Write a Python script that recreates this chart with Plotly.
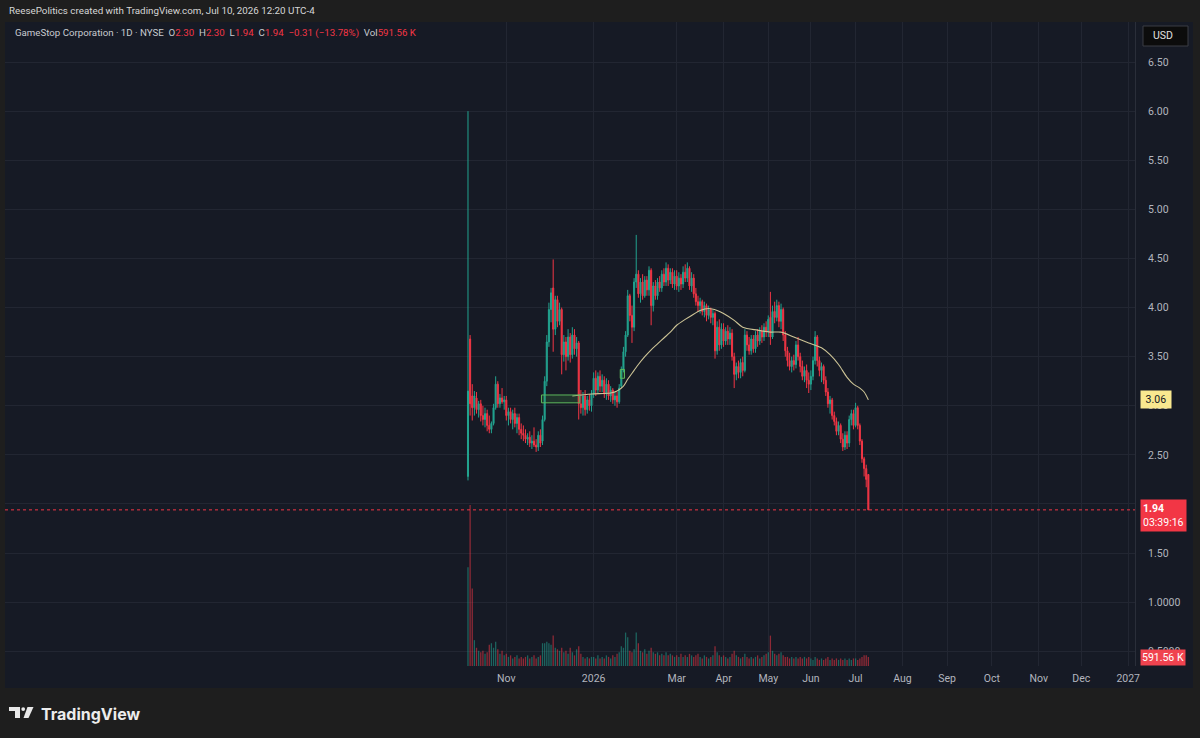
import numpy as np
import pandas as pd
import plotly.graph_objects as go

# ---------------- data ----------------
holidays = ["2025-11-27", "2025-12-25", "2026-01-01", "2026-01-19", "2026-02-16",
            "2026-04-03", "2026-05-25", "2026-06-19", "2026-07-03", "2026-09-07",
            "2026-11-26", "2026-12-25", "2027-01-01"]
first_day = "2025-10-08"
last_day = "2026-07-10"
axis_end = "2027-01-29"

opens = [
    # Oct
    2.28, 3.68, 3.10, 2.98, 3.08, 2.96, 3.02, 2.90, 2.86, 2.92, 2.80, 2.76, 2.82, 2.98, 3.22, 3.02, 3.08, 3.04,
    # Nov
    3.06, 2.90, 2.94, 2.86, 2.92, 2.82, 2.88, 2.76, 2.72, 2.70, 2.66, 2.68, 2.62, 2.64, 2.60, 2.58, 2.70, 2.64, 2.86,
    # Dec
    3.25, 3.65, 3.98, 4.20, 3.78, 4.08, 3.86, 3.98, 3.52, 3.65, 3.50, 3.70, 3.52, 3.72, 3.58, 3.64, 3.02, 2.98, 3.10, 2.96, 3.06, 3.00,
    # Jan
    3.12, 3.28, 3.16, 3.30, 3.20, 3.26, 3.12, 3.22, 3.10, 3.16, 3.06, 3.10, 3.04, 3.20, 3.36, 3.55, 3.72, 4.12, 3.92, 3.80,
    # Feb
    4.26, 4.34, 4.14, 4.26, 4.12, 4.28, 4.18, 4.38, 4.02, 4.22, 4.12, 4.26, 4.20, 4.34, 4.26, 4.40, 4.28, 4.36, 4.24,
    # Mar
    4.32, 4.22, 4.30, 4.24, 4.36, 4.30, 4.40, 4.22, 4.30, 4.14, 4.06, 4.02, 4.06, 3.96, 4.02, 3.92, 3.98, 3.90, 3.94, 3.56, 3.80, 3.62,
    # Apr
    3.78, 3.66, 3.76, 3.68, 3.74, 3.50, 3.32, 3.40, 3.34, 3.44, 3.36, 3.72, 3.62, 3.56, 3.68, 3.58, 3.72, 3.66, 3.76, 3.70, 3.80,
    # May
    3.76, 3.90, 3.70, 3.96, 3.90, 4.02, 3.86, 3.98, 3.72, 3.56, 3.46, 3.40, 3.46, 3.42, 3.62, 3.50, 3.40, 3.30, 3.36, 3.26,
    # Jun
    3.22, 3.30, 3.46, 3.70, 3.46, 3.36, 3.40, 3.26, 3.14, 3.02, 3.06, 2.90, 2.84, 2.74, 2.80, 2.66, 2.58, 2.70, 2.62, 2.86, 2.92,
    # Jul
    2.80, 2.98, 2.80, 2.64, 2.46, 2.36, 2.30,
]
highs = [
    6.00, 3.72, 3.22, 3.15, 3.14, 3.05, 3.06, 3.00, 2.98, 2.96, 2.90, 2.84, 3.02, 3.30, 3.25, 3.12, 3.18, 3.10,
    3.10, 2.98, 2.98, 2.96, 2.98, 2.92, 2.92, 2.82, 2.80, 2.76, 2.72, 2.74, 2.70, 2.78, 2.66, 2.74, 2.76, 2.90, 3.30,
    3.72, 4.05, 4.20, 4.49, 4.12, 4.12, 4.05, 4.00, 3.72, 3.70, 3.78, 3.74, 3.80, 3.78, 3.70, 3.66, 3.16, 3.14, 3.16, 3.10, 3.12, 3.16,
    3.34, 3.36, 3.34, 3.36, 3.32, 3.30, 3.28, 3.26, 3.20, 3.18, 3.14, 3.14, 3.22, 3.40, 3.60, 3.76, 4.18, 4.14, 4.02, 4.30,
    4.74, 4.38, 4.30, 4.34, 4.32, 4.32, 4.42, 4.40, 4.26, 4.28, 4.30, 4.32, 4.38, 4.40, 4.46, 4.44, 4.40, 4.40, 4.38,
    4.38, 4.36, 4.34, 4.42, 4.44, 4.46, 4.42, 4.36, 4.34, 4.20, 4.12, 4.10, 4.08, 4.06, 4.04, 4.02, 4.00, 3.98, 3.96, 3.86, 3.88, 3.84,
    3.84, 3.80, 3.82, 3.80, 3.78, 3.54, 3.44, 3.46, 3.48, 3.50, 3.78, 3.76, 3.70, 3.72, 3.72, 3.76, 3.78, 3.80, 3.82, 3.84, 3.86,
    3.92, 4.16, 4.02, 4.06, 4.08, 4.06, 4.04, 4.00, 3.76, 3.60, 3.54, 3.50, 3.52, 3.66, 3.70, 3.54, 3.46, 3.40, 3.42, 3.34,
    3.36, 3.50, 3.76, 3.72, 3.50, 3.44, 3.42, 3.30, 3.18, 3.10, 3.08, 2.94, 2.88, 2.84, 2.82, 2.72, 2.74, 2.74, 2.90, 2.96, 2.96,
    3.03, 3.00, 2.82, 2.66, 2.48, 2.40, 2.30,
]
lows = [
    2.24, 2.90, 2.85, 2.90, 2.92, 2.88, 2.84, 2.80, 2.78, 2.74, 2.72, 2.72, 2.80, 2.96, 2.98, 2.98, 3.02, 2.96,
    2.85, 2.80, 2.82, 2.76, 2.78, 2.72, 2.70, 2.66, 2.64, 2.62, 2.60, 2.58, 2.56, 2.58, 2.53, 2.54, 2.58, 2.60, 2.84,
    3.20, 3.60, 3.85, 3.55, 3.72, 3.80, 3.82, 3.32, 3.45, 3.36, 3.46, 3.44, 3.48, 3.52, 3.50, 2.86, 2.92, 2.90, 2.90, 2.92, 2.95, 2.94,
    3.08, 3.10, 3.12, 3.14, 3.14, 3.08, 3.06, 3.06, 3.04, 3.02, 3.00, 2.98, 3.02, 3.18, 3.34, 3.50, 3.70, 3.86, 3.64, 3.76,
    4.20, 4.10, 4.05, 4.08, 4.10, 4.12, 4.12, 3.82, 3.96, 4.08, 4.08, 4.16, 4.16, 4.22, 4.22, 4.22, 4.24, 4.20, 4.18,
    4.18, 4.16, 4.18, 4.20, 4.26, 4.26, 4.18, 4.16, 4.10, 4.02, 3.96, 3.94, 3.92, 3.90, 3.86, 3.88, 3.84, 3.82, 3.48, 3.52, 3.56, 3.58,
    3.60, 3.62, 3.62, 3.62, 3.46, 3.18, 3.26, 3.28, 3.28, 3.30, 3.34, 3.56, 3.52, 3.52, 3.54, 3.54, 3.60, 3.62, 3.64, 3.66, 3.70,
    3.70, 3.62, 3.68, 3.84, 3.86, 3.80, 3.78, 3.66, 3.50, 3.40, 3.36, 3.34, 3.36, 3.38, 3.46, 3.34, 3.26, 3.24, 3.18, 3.13,
    3.16, 3.26, 3.42, 3.40, 3.30, 3.24, 3.22, 3.10, 2.98, 2.92, 2.86, 2.80, 2.70, 2.70, 2.62, 2.54, 2.55, 2.56, 2.58, 2.80, 2.76,
    2.78, 2.76, 2.60, 2.42, 2.28, 2.17, 1.94,
]
closes = [
    3.15, 3.02, 2.98, 3.10, 2.96, 3.02, 2.90, 2.86, 2.92, 2.80, 2.76, 2.82, 2.98, 3.22, 3.02, 3.08, 3.04, 3.06,
    2.90, 2.94, 2.86, 2.92, 2.82, 2.88, 2.76, 2.72, 2.70, 2.66, 2.68, 2.62, 2.64, 2.60, 2.58, 2.70, 2.62, 2.86, 3.25,
    3.65, 3.98, 4.15, 3.78, 4.08, 3.86, 3.98, 3.52, 3.65, 3.50, 3.70, 3.52, 3.72, 3.58, 3.64, 3.02, 2.98, 3.10, 2.96, 3.06, 3.00, 3.12,
    3.28, 3.16, 3.30, 3.20, 3.26, 3.12, 3.22, 3.10, 3.16, 3.06, 3.10, 3.04, 3.18, 3.36, 3.55, 3.72, 4.12, 3.92, 3.80, 4.26,
    4.34, 4.14, 4.26, 4.12, 4.28, 4.18, 4.38, 4.02, 4.22, 4.12, 4.26, 4.20, 4.34, 4.26, 4.40, 4.28, 4.36, 4.24, 4.32,
    4.22, 4.30, 4.24, 4.36, 4.30, 4.40, 4.22, 4.30, 4.14, 4.06, 4.02, 4.06, 3.96, 4.02, 3.92, 3.98, 3.90, 3.94, 3.56, 3.80, 3.62, 3.78,
    3.66, 3.76, 3.68, 3.74, 3.50, 3.32, 3.40, 3.34, 3.44, 3.36, 3.72, 3.62, 3.56, 3.68, 3.58, 3.72, 3.66, 3.76, 3.70, 3.80, 3.76,
    3.88, 3.70, 3.96, 3.90, 4.02, 3.86, 3.98, 3.72, 3.56, 3.46, 3.40, 3.46, 3.42, 3.62, 3.50, 3.40, 3.30, 3.36, 3.26, 3.22,
    3.30, 3.46, 3.70, 3.46, 3.36, 3.40, 3.26, 3.14, 3.02, 3.06, 2.90, 2.84, 2.74, 2.80, 2.66, 2.58, 2.70, 2.62, 2.86, 2.92, 2.80,
    2.98, 2.80, 2.64, 2.46, 2.36, 2.25, 1.94,
]
volumes_m = [
    6.5, 10.6, 5.1, 1.7, 1.2, 1.0, 0.9, 1.0, 0.8, 0.9, 1.4, 1.5, 1.2, 1.6, 1.1, 0.8, 1.0, 0.7,
    0.8, 0.6, 0.7, 0.5, 0.6, 0.7, 0.5, 0.6, 0.5, 0.6, 0.7, 0.5, 0.6, 0.7, 0.5, 0.6, 0.7, 1.5, 1.5,
    1.6, 1.5, 1.4, 2.0, 1.2, 1.1, 1.0, 1.2, 0.9, 1.0, 0.8, 1.2, 0.9, 0.7, 1.1, 1.3, 0.8, 0.6, 0.5, 0.6, 0.5, 0.6,
    0.6, 0.5, 0.7, 0.5, 0.6, 0.5, 0.7, 0.6, 0.5, 0.7, 0.6, 0.8, 0.9, 1.3, 1.2, 2.2, 1.9, 1.0, 0.9, 1.1,
    2.2, 1.5, 1.0, 0.9, 1.1, 0.8, 1.0, 1.2, 0.9, 0.8, 0.9, 0.7, 0.8, 0.7, 0.9, 0.7, 0.8, 0.7, 0.6,
    0.7, 0.6, 0.8, 0.6, 0.7, 0.6, 0.8, 0.7, 0.6, 0.7, 0.8, 0.6, 0.5, 0.7, 0.6, 0.5, 0.6, 0.7, 1.3, 0.9, 0.7, 0.6,
    0.7, 0.6, 0.5, 0.6, 0.8, 1.0, 0.7, 0.6, 0.5, 0.6, 0.8, 0.6, 0.5, 0.6, 0.5, 0.6, 0.7, 0.5, 0.6, 0.7, 0.8,
    0.9, 2.0, 1.0, 0.8, 0.7, 0.8, 0.9, 0.7, 0.6, 0.6, 0.5, 0.6, 0.5, 0.6, 0.5, 0.6, 0.5, 0.6, 0.5, 0.6,
    0.5, 0.4, 0.6, 0.5, 0.4, 0.5, 0.4, 0.5, 0.6, 0.4, 0.5, 0.4, 0.5, 0.4, 0.5, 0.4, 0.5, 0.4, 0.5, 0.4, 0.5,
    0.5, 0.4, 0.5, 0.6, 0.7, 0.7, 0.59156,
]

# 50-day moving average as drawn on the chart
ma_dates = ["2025-12-17", "2025-12-31", "2026-01-14", "2026-01-20", "2026-01-23", "2026-01-27",
            "2026-01-30", "2026-02-03", "2026-02-06", "2026-02-11", "2026-02-17", "2026-02-20",
            "2026-02-25", "2026-03-02", "2026-03-06", "2026-03-11", "2026-03-17", "2026-03-23",
            "2026-03-27", "2026-04-01", "2026-04-09", "2026-04-15", "2026-04-24", "2026-05-04",
            "2026-05-11", "2026-05-19", "2026-05-29", "2026-06-08", "2026-06-12", "2026-06-18",
            "2026-06-25", "2026-06-30", "2026-07-06", "2026-07-08", "2026-07-10"]
ma_values = [3.10, 3.12, 3.13, 3.15, 3.20, 3.27,
             3.36, 3.42, 3.50, 3.57, 3.63, 3.69,
             3.75, 3.82, 3.88, 3.92, 3.97, 3.99,
             3.97, 3.94, 3.87, 3.80, 3.77, 3.75,
             3.75, 3.70, 3.64, 3.59, 3.52, 3.42,
             3.29, 3.22, 3.18, 3.14, 3.06]

# user-drawn boxes: (start date, end date, low, high)
drawn_boxes = [("2025-11-26", "2025-12-22", 3.03, 3.11),
               ("2026-01-22", "2026-01-23", 3.28, 3.37)]

tick_months = ["2025-11", "2026-01", "2026-03", "2026-04", "2026-05", "2026-06", "2026-07",
               "2026-08", "2026-09", "2026-10", "2026-11", "2026-12", "2027-01"]
tick_labels = ["Nov", "2026", "Mar", "Apr", "May", "Jun", "Jul", "Aug", "Sep", "Oct", "Nov", "Dec", "2027"]

price_ticks = [0.5, 1.0, 1.5, 2.0, 2.5, 3.0, 3.5, 4.0, 4.5, 5.0, 5.5, 6.0, 6.5]
price_labels = ["0.5000", "1.0000", "1.50", "2.00", "2.50", "3.00", "3.50", "4.00",
                "4.50", "5.00", "5.50", "6.00", "6.50"]

# ---------------- style ----------------
UP = "#22a38f"
DN = "#f23645"
UP_V = "rgba(34,163,143,0.55)"
DN_V = "rgba(242,54,69,0.55)"
PANEL = "#161a25"
OUTER = "#1e1e1e"
GRID = "#222632"
TXT = "#b2b5be"
FONT = "Roboto"

W, H = 1200, 738
ML, MR, MT, MB = 5, 65, 22, 72
PW, PH = W - ML - MR, H - MT - MB


def px_x(px):
    return (px - ML) / PW


def px_y(py):
    return (H - MB - py) / PH


calendar = pd.bdate_range(first_day, axis_end, freq="C", holidays=holidays)
dates = calendar[calendar <= pd.Timestamp(last_day)]
pos = {d.strftime("%Y-%m-%d"): i for i, d in enumerate(calendar)}
xs = np.arange(len(dates))
month_key = calendar.strftime("%Y-%m")
tick_vals = [int(np.argmax(month_key == m)) for m in tick_months]
ma_x = [pos[d] for d in ma_dates]

vol_colors = [UP_V if c >= o else DN_V for o, c in zip(opens, closes)]

fig = go.Figure()
fig.add_trace(go.Bar(x=xs, y=volumes_m, yaxis="y2", marker=dict(color=vol_colors, line=dict(width=0)),
                     width=0.6, showlegend=False, hoverinfo="skip"))
fig.add_trace(go.Candlestick(
    x=xs, open=opens, high=highs, low=lows, close=closes,
    increasing=dict(line=dict(color=UP, width=1), fillcolor=UP),
    decreasing=dict(line=dict(color=DN, width=1), fillcolor=DN),
    whiskerwidth=0, showlegend=False))
fig.add_trace(go.Scatter(x=ma_x, y=ma_values, mode="lines",
                         line=dict(color="#cdc496", width=1.1, shape="spline", smoothing=0.8),
                         showlegend=False, hoverinfo="skip"))

shapes = []
# chart panel background (extends over price and time scales)
shapes.append(dict(type="rect", xref="paper", yref="paper", x0=px_x(5), x1=px_x(1193),
                   y0=px_y(688), y1=px_y(22), fillcolor=PANEL, line=dict(width=0), layer="below"))
for (d0, d1, lo, hi) in drawn_boxes:
    shapes.append(dict(type="rect", xref="x", yref="y", x0=pos[d0] - 0.5, x1=pos[d1] + 0.5,
                       y0=lo, y1=hi, fillcolor="rgba(76,175,80,0.18)",
                       line=dict(color="#5cb85c", width=1), layer="above"))
# last price dotted line
shapes.append(dict(type="line", xref="paper", yref="y", x0=0, x1=1, y0=closes[-1], y1=closes[-1],
                   line=dict(color=DN, width=1, dash="dot")))
# USD box
shapes.append(dict(type="rect", xref="paper", yref="paper", x0=px_x(1143), x1=px_x(1188),
                   y0=px_y(46), y1=px_y(26), fillcolor="#0c0c0c",
                   line=dict(color="#3a3d45", width=1), layer="above"))
# TradingView logo icon
shapes.append(dict(type="path", xref="paper", yref="paper",
                   path=f"M {px_x(9)},{px_y(707)} L {px_x(20)},{px_y(707)} L {px_x(20)},{px_y(718)} "
                        f"L {px_x(15)},{px_y(718)} L {px_x(15)},{px_y(711)} L {px_x(9)},{px_y(711)} Z",
                   fillcolor="#e8e8e8", line=dict(width=0)))
shapes.append(dict(type="circle", xref="paper", yref="paper", x0=px_x(21.3), x1=px_x(25.1),
                   y0=px_y(711), y1=px_y(707.2), fillcolor="#e8e8e8", line=dict(width=0)))
shapes.append(dict(type="path", xref="paper", yref="paper",
                   path=f"M {px_x(27.5)},{px_y(707)} L {px_x(33.5)},{px_y(707)} L {px_x(28.5)},{px_y(718)} "
                        f"L {px_x(23.5)},{px_y(718)} Z",
                   fillcolor="#e8e8e8", line=dict(width=0)))

red_span = '<span style="color:#f23645">{}</span>'
header = ("GameStop Corporation · 1D · NYSE&nbsp;&nbsp;O" + red_span.format("2.30") +
          "&nbsp;&nbsp;H" + red_span.format("2.30") + "&nbsp;&nbsp;L" + red_span.format("1.94") +
          "&nbsp;&nbsp;C" + red_span.format("1.94") + "&nbsp;&nbsp;" + red_span.format("−0.31 (−13.78%)") +
          "&nbsp;&nbsp;Vol" + red_span.format("591.56 K"))

annotations = [
    dict(xref="paper", yref="paper", x=px_x(7), y=px_y(10), xanchor="left", yanchor="middle",
         text="ReesePolitics created with TradingView.com, Jul 10, 2026 12:20 UTC-4", showarrow=False,
         font=dict(family=FONT, size=9.8, color="#d6d6d6")),
    dict(xref="paper", yref="paper", x=px_x(13), y=px_y(33), xanchor="left", yanchor="middle",
         text=header, showarrow=False, font=dict(family=FONT, size=9.7, color="#c8cad0")),
    dict(xref="paper", yref="paper", x=px_x(1151), y=px_y(36), xanchor="left", yanchor="middle",
         text="USD", showarrow=False, font=dict(family=FONT, size=10.5, color="#e0e0e0")),
    dict(xref="paper", yref="y", x=px_x(1140), y=ma_values[-1], xanchor="left", yanchor="middle",
         text="&nbsp;3.06&nbsp;", showarrow=False, bgcolor="#f9e88f", borderpad=2,
         font=dict(family=FONT, size=10.5, color="#131722")),
    dict(xref="paper", yref="y", x=px_x(1140), y=closes[-1], yshift=-6, xanchor="left", yanchor="middle",
         text="<b>1.94</b>&nbsp;&nbsp;&nbsp;&nbsp;&nbsp;&nbsp;&nbsp;<br>03:39:16", align="left", showarrow=False,
         bgcolor=DN, borderpad=2, font=dict(family=FONT, size=10.5, color="#ffffff")),
    dict(xref="paper", yref="y2", x=px_x(1140), y=volumes_m[-1], xanchor="left", yanchor="middle",
         text="591.56 K", showarrow=False, bgcolor="#f0434f", borderpad=1,
         font=dict(family=FONT, size=10.5, color="#ffffff")),
    dict(xref="paper", yref="paper", x=px_x(39), y=px_y(714), xanchor="left", yanchor="middle",
         text="<b>TradingView</b>", showarrow=False,
         font=dict(family="Inter", size=16, color="#ececec")),
]

fig.update_layout(
    width=W, height=H, autosize=False,
    margin=dict(l=ML, r=MR, t=MT, b=MB, pad=0),
    paper_bgcolor=OUTER, plot_bgcolor=PANEL,
    boxgap=0.3,
    showlegend=False,
    xaxis=dict(range=[-217.4, 313.2], tickvals=tick_vals, ticktext=tick_labels,
               showgrid=True, gridcolor=GRID, gridwidth=1, zeroline=False, showline=False,
               ticks="", ticklabelstandoff=4, tickfont=dict(family=FONT, size=10.5, color=TXT),
               rangeslider=dict(visible=False), fixedrange=True),
    yaxis=dict(range=[0.350, 6.908], side="right", tickvals=price_ticks, ticktext=price_labels,
               showgrid=True, gridcolor=GRID, gridwidth=1, zeroline=False,
               showline=True, linecolor="#2a2e39", linewidth=1,
               ticks="", ticklabelstandoff=10, tickfont=dict(family=FONT, size=10.5, color=TXT),
               fixedrange=True),
    yaxis2=dict(overlaying="y", range=[0, 42.4], visible=False, fixedrange=True),
    shapes=shapes,
    annotations=annotations,
    hovermode=False,
)

fig.write_html("out.html", config=dict(displayModeBar=False))
